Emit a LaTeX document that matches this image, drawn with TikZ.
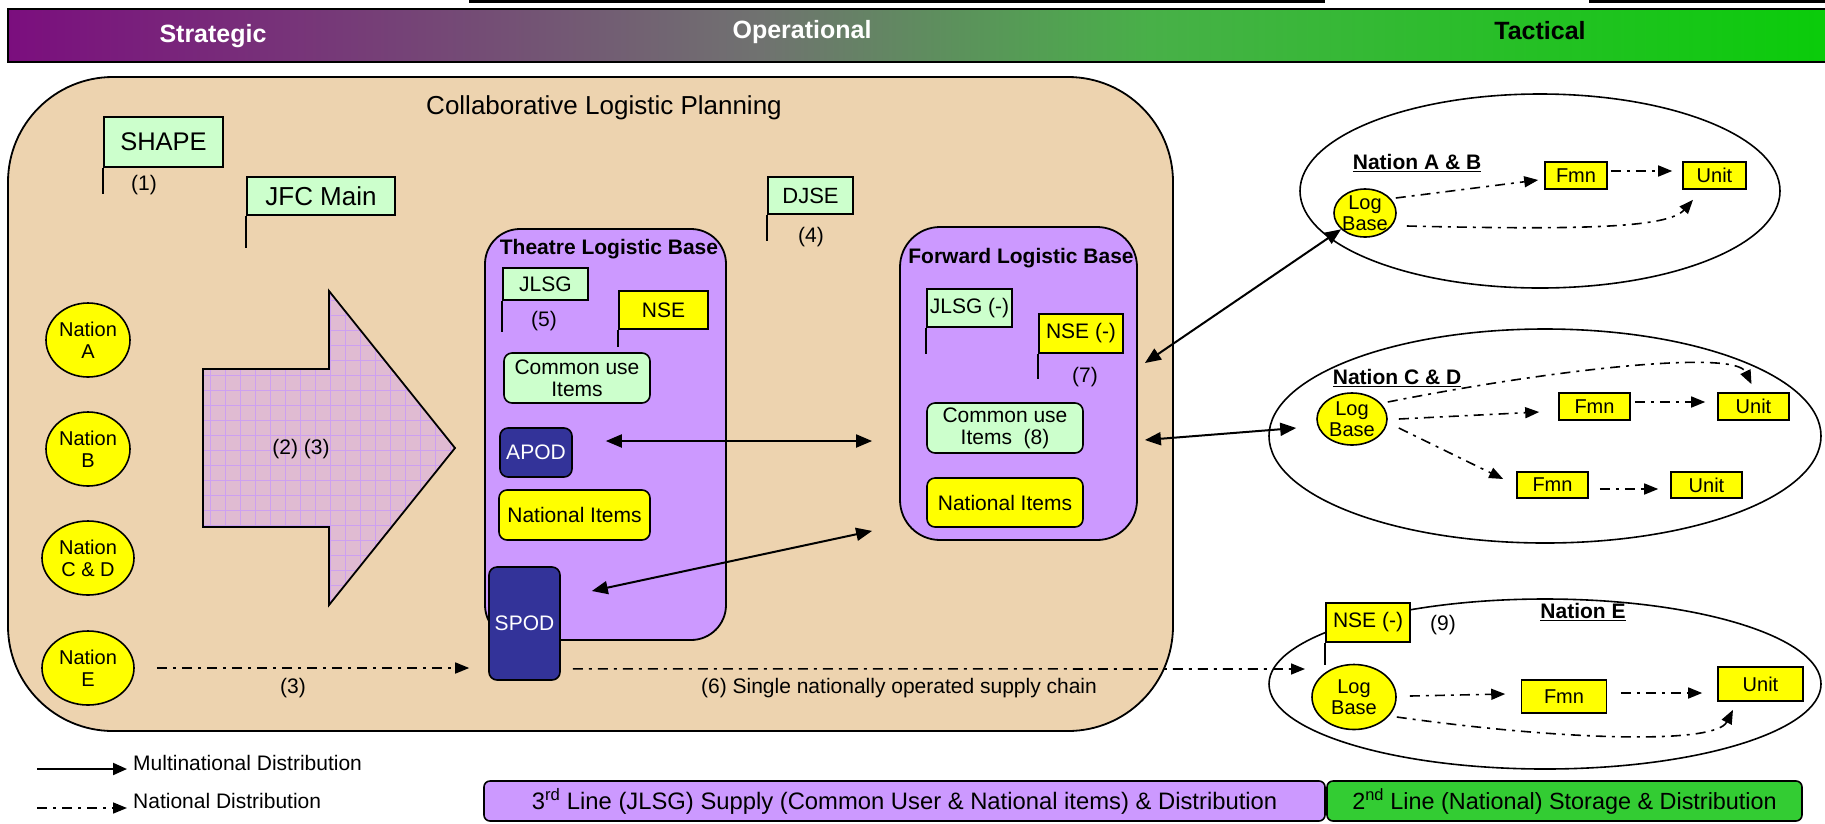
\documentclass[tikz,border=0pt]{standalone}
\usepackage{fontspec}
\setmainfont{Liberation Sans}
\usetikzlibrary{shapes.geometric,arrows.meta,calc}
\definecolor{tanbg}{RGB}{237,211,175}
\definecolor{lgreen}{RGB}{204,255,204}
\definecolor{lpurple}{RGB}{204,153,255}
\definecolor{yel}{RGB}{255,255,0}
\definecolor{dblue}{RGB}{51,51,153}
\definecolor{gbar}{RGB}{51,204,51}
\definecolor{arrfill}{RGB}{224,187,210}
\definecolor{gridc}{RGB}{205,160,240}
\definecolor{hpurple}{RGB}{123,14,126}
\definecolor{hgray}{RGB}{112,114,112}
\definecolor{hmid}{RGB}{72,176,72}
\definecolor{hgreen}{RGB}{10,204,10}
\tikzset{
  bx/.style={draw, line width=1.6pt, inner sep=0pt, align=center, font=\fontsize{21}{24}\selectfont},
  rbx/.style={bx, rounded corners=8pt},
  lbl/.style={inner sep=0pt, font=\fontsize{21}{24}\selectfont},
  ttl/.style={inner sep=0pt, font=\bfseries\fontsize{21}{24}\selectfont},
  nat/.style={ellipse, draw, line width=1.6pt, fill=yel, inner sep=0pt, align=center, minimum width=84pt, minimum height=74pt, font=\fontsize{20}{22}\selectfont},
  logb/.style={ellipse, draw, line width=1.6pt, fill=yel, inner xsep=-12pt, inner ysep=-12pt, align=center, font=\fontsize{20}{21}\selectfont},
  smb/.style={draw, line width=1.6pt, fill=yel, inner sep=0pt, minimum height=27pt, font=\fontsize{20}{22}\selectfont},
  bigell/.style={ellipse, draw, line width=1.6pt, inner sep=0pt},
  pole/.style={line width=1.6pt},
  multarr/.style={line width=2pt, {Triangle[length=16pt,width=13pt]}-{Triangle[length=16pt,width=13pt]}},
  solarr/.style={line width=2pt, -{Triangle[length=14pt,width=12pt]}},
  natarr/.style={line width=1.6pt, dash pattern=on 10pt off 6pt on 3pt off 6pt, -{Triangle[length=14pt,width=11pt]}},
}
\begin{document}
\begin{tikzpicture}[x=1pt,y=-1pt]
\useasboundingbox (0,0) rectangle (1825,823);
\fill[white] (0,0) rectangle (1825,823);
% top remnants
\fill[black] (469,0) rectangle (1325,3);
\fill[black] (1589,0) rectangle (1825,3);
% header bar
\shade[left color=hpurple, right color=hgray] (8,9) rectangle (760,62);
\shade[left color=hgray, right color=hmid] (760,9) rectangle (1150,62);
\shade[left color=hmid, right color=hgreen] (1150,9) rectangle (1825,62);
\draw[line width=2.5pt] (1825,9) -- (8,9) -- (8,62) -- (1825,62);
\node[text=white, font=\bfseries\fontsize{25}{28}\selectfont] (hs) at (213,36) {Strategic};
\node[text=white, font=\bfseries\fontsize{25}{28}\selectfont] (ho) at (802,32) {Operational};
\node[text=black, font=\bfseries\fontsize{25}{28}\selectfont] (ht) at (1540,31) {Tactical};
% main tan area
\node[draw, line width=1.8pt, fill=tanbg, rounded corners=105pt, minimum width=1165pt, minimum height=654pt, inner sep=0pt] (clp) at (590.5,404) {};
\node[inner sep=0pt, font=\fontsize{26}{29}\selectfont] (clpt) at (604,108) {Collaborative Logistic Planning};
% flags
\node[bx, fill=lgreen, minimum width=119pt, minimum height=50pt, font=\fontsize{25.5}{28}\selectfont] (shape) at (163.5,142) {SHAPE};
\draw[pole] (shape.south west) -- ++(0,26);
\node[lbl] (n1) at (144,185) {(1)};
\node[bx, fill=lgreen, minimum width=148pt, minimum height=38pt, font=\fontsize{26}{28}\selectfont] (jfc) at (321,196) {JFC Main};
\draw[pole] (jfc.south west) -- ++(0,32);
\node[bx, fill=lgreen, minimum width=85pt, minimum height=37pt, font=\fontsize{22}{26}\selectfont] (djse) at (810.5,195.5) {DJSE};
\draw[pole] (djse.south west) -- ++(0,26);
\node[lbl] (n4) at (811,237) {(4)};
% nations
\node[nat] (nA) at (88,340) {Nation\\A};
\node[nat] (nB) at (88,449) {Nation\\B};
\node[nat, minimum width=92pt] (nCD) at (88,558) {Nation\\C \& D};
\node[nat, minimum width=92pt] (nE) at (88,668) {Nation\\E};
% big arrow
\begin{scope}
\clip (203,369) -- (329,369) -- (329,291) -- (455,448) -- (329,605) -- (329,527) -- (203,527) -- cycle;
\fill[arrfill] (200,288) rectangle (460,610);
\draw[gridc, line width=0.5pt, step=15pt] (200,288) grid (460,610);
\end{scope}
\draw[line width=1.8pt, line join=miter] (203,369) -- (329,369) -- (329,291) -- (455,448) -- (329,605) -- (329,527) -- (203,527) -- cycle;
\node[lbl] (n23) at (301,449) {(2) (3)};
% Theatre Logistic Base
\node[draw, line width=1.8pt, fill=lpurple, rounded corners=35pt, minimum width=241pt, minimum height=411pt, inner sep=0pt] (tlb) at (605.5,434.5) {};
\node[ttl] (tlbt) at (609,249) {Theatre Logistic Base};
\node[bx, fill=lgreen, minimum width=85pt, minimum height=32pt] (jlsg) at (545.5,284) {JLSG};
\draw[pole] (jlsg.south west) -- ++(0,31);
\node[lbl] (n5) at (544,321) {(5)};
\node[bx, fill=yel, minimum width=89pt, minimum height=38pt] (nse) at (663.5,310) {NSE};
\draw[pole] (nse.south west) -- ++(0,17);
\node[rbx, fill=lgreen, minimum width=146pt, minimum height=50pt, font=\fontsize{21}{22}\selectfont] (cui) at (577,378) {Common use\\Items};
\node[rbx, fill=dblue, text=white, minimum width=72pt, minimum height=49pt] (apod) at (536,452.5) {APOD};
\node[rbx, fill=yel, minimum width=151pt, minimum height=50pt] (nit) at (574.5,515) {National Items};
\node[rbx, fill=dblue, text=white, minimum width=71pt, minimum height=113pt] (spod) at (524.5,623.5) {SPOD};
% Forward Logistic Base
\node[draw, line width=1.8pt, fill=lpurple, rounded corners=40pt, minimum width=237pt, minimum height=313pt, inner sep=0pt] (flb) at (1018.5,383.5) {};
\node[ttl] (flbt) at (1021,258) {Forward Logistic Base};
\node[bx, fill=lgreen, minimum width=85pt, minimum height=38pt] (jlsgm) at (969.5,308) {JLSG (-)};
\draw[pole] (jlsgm.south west) -- ++(0,26);
\node[bx, fill=yel, minimum width=84pt, minimum height=39pt] (nsem) at (1081,333.5) {NSE (-)};
\draw[pole] (nsem.south west) -- ++(0,25);
\node[lbl] (n7) at (1085,377) {(7)};
\node[rbx, fill=lgreen, minimum width=156pt, minimum height=50pt, font=\fontsize{21}{22}\selectfont] (cui8) at (1005,428) {Common use\\Items\ \ (8)};
\node[rbx, fill=yel, minimum width=156pt, minimum height=49pt] (nitf) at (1005,502.5) {National Items};
% right ellipses
\node[bigell, minimum width=480pt, minimum height=194pt] (eAB) at (1540,191) {};
\node[bigell, minimum width=552pt, minimum height=214pt] (eCD) at (1545,436) {};
\node[bigell, minimum width=552pt, minimum height=170pt] (eE) at (1545,684) {};
% Nation A & B
\node[ttl] (tAB) at (1417,163) {\underline{Nation A \& B}};
\node[logb, minimum width=62pt, minimum height=48pt] (lbab) at (1365,213) {Log\\Base};
\node[smb, minimum width=62pt] (fab) at (1576,175.5) {Fmn};
\node[smb, minimum width=63pt] (uab) at (1714.5,175.5) {Unit};
\draw[natarr] ($(lbab.east)+(-1,-15)$) -- ($(fab.west)+(-6,4.5)$);
\draw[natarr] ($(fab.east)+(3,-4.5)$) -- ($(uab.west)+(-10,-4.5)$);
\draw[natarr] ($(lbab.east)+(10,13)$) .. controls (1580,230) and (1668,228) .. ($(uab.south)+(-21.5,10)$);
% Nation C & D
\node[ttl] (tCD) at (1397,378) {\underline{Nation C \& D}};
\node[logb, minimum width=70pt, minimum height=52pt] (lbcd) at (1352,419) {Log\\Base};
\node[smb, minimum width=71pt] (fcd1) at (1594.5,406.5) {Fmn};
\node[smb, minimum width=71pt] (ucd1) at (1753.5,406.5) {Unit};
\node[smb, minimum width=71pt, minimum height=26pt] (fcd2) at (1552.5,485) {Fmn};
\node[smb, minimum width=71pt, minimum height=26pt] (ucd2) at (1706.5,485) {Unit};
\draw[natarr] ($(lbcd.east)+(11,0)$) -- ($(fcd1.west)+(-19,5.5)$);
\draw[natarr] ($(fcd1.east)+(4,-4.5)$) -- ($(ucd1.west)+(-12,-4.5)$);
\draw[natarr] ($(lbcd.east)+(0,-17)$) .. controls (1560,368) and (1735,350) .. ($(ucd1.north)+(-2,-8)$);
\draw[natarr] ($(lbcd.east)+(11,9)$) -- ($(fcd2.west)+(-13,-6)$);
\draw[natarr] ($(fcd2.east)+(11,4)$) -- ($(ucd2.west)+(-12,4)$);
% Nation E
\node[ttl] (tE) at (1583,612) {\underline{Nation E}};
\node[bx, fill=yel, minimum width=84pt, minimum height=39pt] (nsee) at (1368,622.5) {NSE (-)};
\draw[pole] (nsee.south west) -- ++(0,22);
\node[lbl] (n9) at (1443,625) {(9)};
\node[logb, minimum width=84pt, minimum height=65pt] (lbe) at (1354,697) {Log\\Base};
\node[smb, minimum width=85pt, minimum height=33pt] (fe) at (1564,696.5) {Fmn};
\node[smb, minimum width=85pt, minimum height=34pt] (ue) at (1760.5,684) {Unit};
\draw[natarr] ($(lbe.east)+(13,-1)$) -- ($(fe.west)+(-15.5,-2.5)$);
\draw[natarr] ($(fe.east)+(13.5,-3.5)$) -- ($(ue.west)+(-15,9)$);
\draw[natarr] ($(lbe.east)+(0,20)$) .. controls (1560,740) and (1715,745) .. ($(ue.south)+(-27.5,8)$);
% multinational arrows
\draw[multarr] ($(apod.east)+(33,-11.5)$) -- ($(flb.west)+(-27,57.5)$);
\draw[multarr] ($(spod.east)+(31,-32.5)$) -- ($(flb.south west)+(-27,-10)$);
\draw[multarr] ($(flb.east)+(7,-20.5)$) -- (lbab);
\draw[multarr] ($(flb.east)+(7,56.5)$) -- ($(lbcd.west)+(-20,9)$);
% national lines
\draw[natarr] ($(nE.east)+(22,0)$) -- ($(spod.west |- nE.east)+(-19,0)$);
\node[lbl] (n3) at (293,688) {(3)};
\draw[natarr] ($(spod.south east)+(12,-12)$) -- ($(lbe.center)+(-49,-28)$);
\node[lbl] (n6) at (899,688) {(6) Single nationally operated supply chain};
% legend
\node[lbl, anchor=west, font=\fontsize{21}{23}\selectfont] (lg1) at (133,763) {Multinational Distribution};
\node[lbl, anchor=west, font=\fontsize{21}{23}\selectfont] (lg2) at (133,801) {National Distribution};
\coordinate (lg1s) at (37,769);
\coordinate (lg2s) at (37,808);
\draw[solarr] (lg1s) -- ($(lg1.west)+(-6,6)$);
\draw[natarr] (lg2s) -- ($(lg2.west)+(-6,7)$);
% bottom bars
\node[draw, line width=1.6pt, fill=lpurple, rounded corners=6pt, minimum width=841pt, minimum height=40pt, inner sep=0pt, font=\fontsize{23.8}{26}\selectfont] (bar3) at (904.5,801) {3\textsuperscript{rd} Line (JLSG) Supply (Common User \& National items) \& Distribution};
\node[draw, line width=1.6pt, fill=gbar, rounded corners=6pt, minimum width=475pt, minimum height=40pt, inner sep=0pt, font=\fontsize{23.4}{26}\selectfont] (bar2) at (1564.5,801) {2\textsuperscript{nd} Line (National) Storage \& Distribution};
\end{tikzpicture}
\end{document}
